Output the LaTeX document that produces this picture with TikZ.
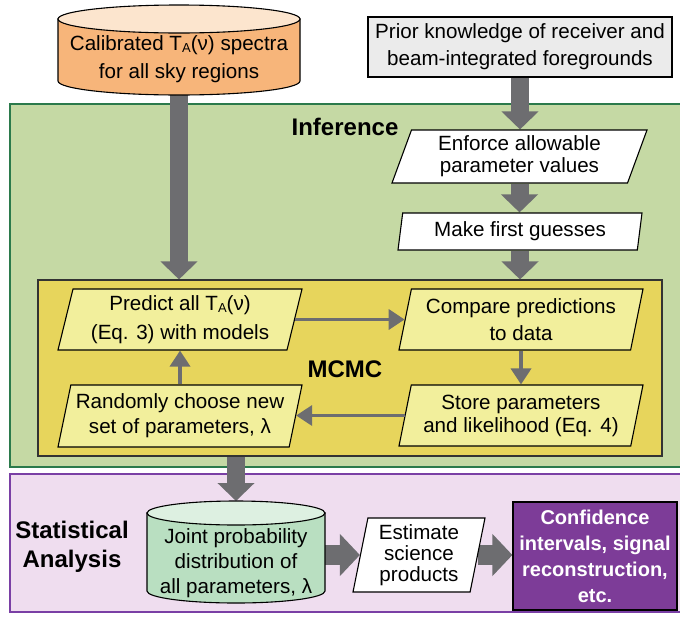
\documentclass[tikz,border=0pt]{standalone}
\usepackage{fontspec}
\setmainfont{Liberation Sans}
\usetikzlibrary{arrows.meta,shapes.geometric}
\definecolor{infgreen}{HTML}{C5D9A4}
\definecolor{infborder}{HTML}{2B7A4B}
\definecolor{mcmcyellow}{HTML}{E7D55C}
\definecolor{lightyellow}{HTML}{F2EF9C}
\definecolor{statpurple}{HTML}{EFDDEF}
\definecolor{statborder}{HTML}{7A3FA5}
\definecolor{deeppurple}{HTML}{7D3C98}
\definecolor{orangebody}{HTML}{F7B57A}
\definecolor{orangetop}{HTML}{FCE5CE}
\definecolor{cylgreen}{HTML}{B9DFC1}
\definecolor{cylgreentop}{HTML}{DDF0E1}
\definecolor{priorgray}{HTML}{EBEBEB}
\definecolor{arrowgray}{HTML}{6D6D70}
\pgfdeclarelayer{back}\pgfdeclarelayer{mid}\pgfsetlayers{back,mid,main}
\newcommand\myfs[1]{\fontsize{20.6pt}{#1pt}\selectfont}
\newcommand\subA{\raisebox{-2pt}{\fontsize{13pt}{13pt}\selectfont A}}
\begin{document}
\begin{tikzpicture}[x=1pt,y=-1pt,
 para/.style={trapezium, trapezium stretches body=true, draw=black, line width=1.1pt, inner sep=0pt, align=center},
 bigarrow/.style={draw=arrowgray, line width=18pt, -{Triangle[width=36pt,length=18pt]}},
 widearrow/.style={draw=arrowgray, line width=20pt, -{Triangle[width=41pt,length=20pt]}},
 thinarrow/.style={draw=arrowgray, line width=3.5pt, -{Triangle[width=20pt,length=16pt]}},
 boldlabel/.style={font=\fontsize{24pt}{29pt}\selectfont\bfseries, align=center},
 cylline/.style={draw=black, line width=1.1pt}
]
\useasboundingbox (0,0) rectangle (680,619);

\begin{pgfonlayer}{back}
\draw[infborder, fill=infgreen, line width=2pt] (10,104) rectangle (684,467);
\draw[statborder, fill=statpurple, line width=2pt] (10,474) rectangle (684,612);
\node[draw=black!80, fill=mcmcyellow, line width=1.1pt, minimum width=624pt, minimum height=176pt, inner sep=0pt] (mcmc) at (350,368) {};
\end{pgfonlayer}

\node[boldlabel] (inflabel) at (345,127) {Inference};
\node[boldlabel] (mcmclabel) at (345,369) {MCMC};
\node[boldlabel] (statlabel) at (72,547) {Statistical\\Analysis};

% orange cylinder
\path[cylline, fill=orangebody] (58,19) -- (58,81) arc[start angle=180, end angle=360, x radius=121pt, y radius=14pt] -- (300,19) -- cycle;
\draw[cylline, fill=orangetop] (179,19) ellipse [x radius=121pt, y radius=14pt];
\node[align=center, font=\myfs{28}] (cal) at (179,59) {Calibrated T\subA(ν) spectra\\for all sky regions};
\coordinate (calb) at (179,90);

% prior box
\node[draw=black, line width=1.1pt, fill=priorgray, minimum width=304pt, minimum height=60pt, align=center, font=\myfs{27}] (prior) at (520,47) {Prior knowledge of receiver and\\beam-integrated foregrounds};

% parallelograms
\node[para, fill=white, trapezium left angle=64.7, trapezium right angle=115.3, minimum width=255pt, minimum height=53pt, font=\myfs{22}] (enf) at (519.5,156.5) {Enforce allowable\\parameter values};
\node[para, fill=white, trapezium left angle=76.3, trapezium right angle=103.7, minimum width=244pt, minimum height=37pt, font=\myfs{24}] (make) at (520,231.5) {Make first guesses};
\node[para, fill=lightyellow, trapezium left angle=72.7, trapezium right angle=107.3, minimum width=244pt, minimum height=61pt, font=\myfs{29}] (pred) at (180,319.5) {Predict all T\subA(ν)\\(Eq. 3) with models};
\node[para, fill=lightyellow, trapezium left angle=73.8, trapezium right angle=106.2, minimum width=244pt, minimum height=62pt, font=\myfs{25}] (rand) at (180,416) {Randomly choose new\\set of parameters, λ};
\node[para, fill=lightyellow, trapezium left angle=73.6, trapezium right angle=106.4, minimum width=244pt, minimum height=61pt, font=\myfs{27}] (comp) at (521,319.5) {Compare predictions\\to data};
\node[para, fill=lightyellow, trapezium left angle=73.6, trapezium right angle=106.4, minimum width=244pt, minimum height=61pt, font=\myfs{23}] (store) at (521,415.5) {Store parameters\\and likelihood (Eq. 4)};
\node[para, fill=white, trapezium left angle=76.3, trapezium right angle=103.7, minimum width=132pt, minimum height=74pt, font=\myfs{21}] (est) at (419,555) {Estimate\\science\\products};

% green cylinder
\path[cylline, fill=cylgreen] (147,513) -- (147,591) arc[start angle=180, end angle=360, x radius=89pt, y radius=12pt] -- (325,513) -- cycle;
\draw[cylline, fill=cylgreentop] (236,513) ellipse [x radius=89pt, y radius=12pt];
\node[align=center, font=\myfs{25}] (jpd) at (236,563) {Joint probability\\distribution of\\all parameters, λ};
\coordinate (jpdt) at (236,501);
\coordinate (jpdr) at (325,555);

% confidence box
\node[draw=black, line width=1.2pt, fill=deeppurple, text=white, minimum width=164pt, minimum height=108pt, align=center, font=\fontsize{20pt}{26pt}\selectfont\bfseries] (conf) at (595,556) {Confidence\\intervals, signal\\reconstruction,\\etc.};

\begin{pgfonlayer}{mid}
\draw[bigarrow] (calb) -- (calb |- mcmc.north);
\draw[bigarrow] (prior.south) -- (prior.south |- enf.north);
\draw[bigarrow] (enf.south) -- (enf.south |- make.north);
\draw[bigarrow] (make.south) -- (make.south |- mcmc.north);
\draw[bigarrow] (jpdt |- mcmc.south) -- (jpdt);
\draw[widearrow] (jpdr) -- (jpdr -| est.west);
\draw[widearrow] (est.east) -- (est.east -| conf.west);
\end{pgfonlayer}

\draw[thinarrow] (pred.east) -- (pred.east -| comp.west);
\draw[thinarrow] (comp.south) -- (comp.south |- store.north);
\draw[thinarrow] (store.west) -- (store.west -| rand.east);
\draw[thinarrow] (rand.north) -- (rand.north |- pred.south);
\end{tikzpicture}
\end{document}
